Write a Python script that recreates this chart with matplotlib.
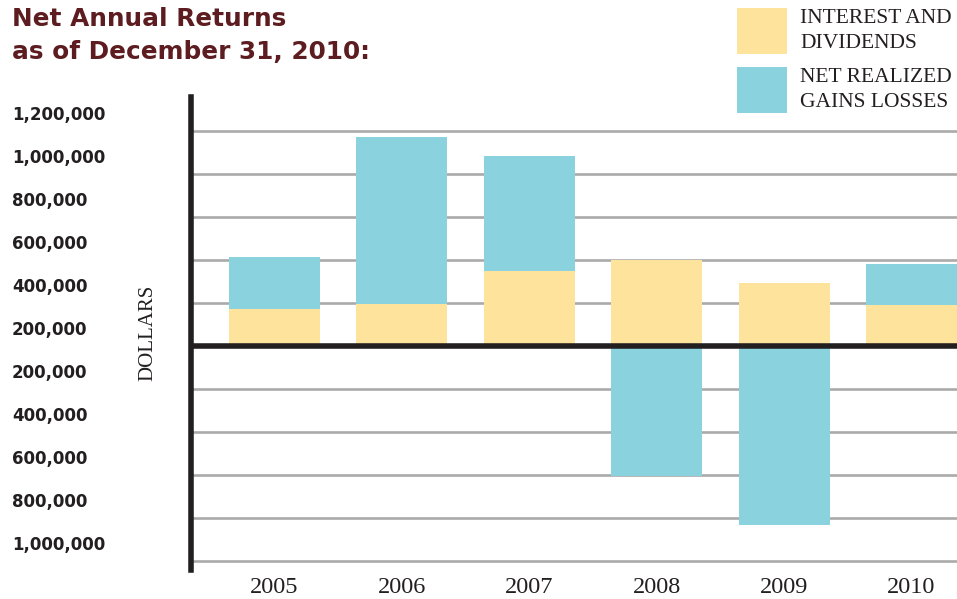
import matplotlib.pyplot as plt
from matplotlib.patches import Rectangle

plt.rcParams['font.family'] = ['DejaVu Sans']

years = ['2005', '2006', '2007', '2008', '2009', '2010']
interest = [172000, 195000, 349000, 400000, 293000, 191000]
gains = [242000, 778000, 536000, -603000, -831000, 190000]
series_names = ['INTEREST AND\nDIVIDENDS', 'NET REALIZED\nGAINS LOSSES']

grid_vals = [-1000000, -800000, -600000, -400000, -200000,
             200000, 400000, 600000, 800000, 1000000]
tick_vals = [1200000, 1000000, 800000, 600000, 400000, 200000,
             -200000, -400000, -600000, -800000, -1000000]

yellow = '#FDE39B'
blue = '#8AD3DE'
dark = '#231f20'
serif = 'Liberation Serif'


def create_chart():
    fig = plt.figure(figsize=(9.57, 5.99), dpi=100)
    ax = fig.add_axes([191 / 957, 29 / 599, 766 / 957, 473 / 599])

    x = list(range(len(years)))
    gain_bottom = [i if g > 0 else 0 for i, g in zip(interest, gains)]
    ax.bar(x, interest, width=0.714, color=yellow, zorder=2)
    ax.bar(x, gains, bottom=gain_bottom, width=0.714, color=blue, zorder=2)

    # gridlines and the heavy zero line
    for g in grid_vals:
        ax.axhline(g, color='#aaaaab', lw=1.9, zorder=1)
    ax.axhline(0, color=dark, lw=4, zorder=3)

    ax.set_xlim(-0.655, 5.357)
    ax.set_ylim(-1041860, 1158140)

    ax.set_xticks(x)
    ax.set_xticklabels(years, family=serif, fontsize=17.5, color=dark)
    ax.tick_params(axis='x', length=0, pad=5)

    # labels sit between the gridlines, as in the original
    tick_pos = [v - 116000 if v > 0 else v + 84000 for v in tick_vals]
    ax.set_yticks(tick_pos)
    ax.set_yticklabels([f'{abs(v):,}' for v in tick_vals],
                       fontsize=12, fontweight='bold', color=dark)
    ax.tick_params(axis='y', length=0, pad=129)
    for lab in ax.get_yticklabels():
        lab.set_ha('left')

    for s in ['top', 'right', 'bottom']:
        ax.spines[s].set_visible(False)
    ax.spines['left'].set_linewidth(4)
    ax.spines['left'].set_color(dark)

    fig.text(148 / 957, 1 - 333 / 599, 'DOLLARS', rotation=90, ha='center',
             va='center', family=serif, fontsize=15, color=dark)

    fig.text(12 / 957, 1 - 7 / 599, 'Net Annual Returns\nas of December 31, 2010:',
             ha='left', va='top', fontsize=17.8, fontweight='bold',
             color='#5c1c20', linespacing=1.45)

    # legend
    for (top, col, name) in [(8, yellow, series_names[0]), (67, blue, series_names[1])]:
        fig.add_artist(Rectangle((737 / 957, 1 - (top + 46) / 599), 50 / 957, 46 / 599,
                                 transform=fig.transFigure, color=col, lw=0))
        fig.text(800 / 957, 1 - (top + 23) / 599, name, ha='left', va='center',
                 family=serif, fontsize=15.5, color=dark, linespacing=1.4)

    fig.savefig('out.png', dpi=100, facecolor='white')
    plt.close(fig)


if __name__ == "__main__":
    create_chart()
